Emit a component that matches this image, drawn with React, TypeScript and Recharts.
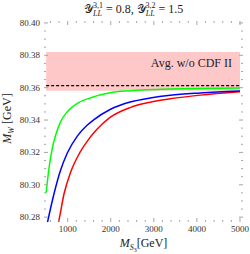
import { LineChart, Line, XAxis, YAxis, ReferenceArea, Label } from 'recharts'

// M_S3 [GeV] and M_W [GeV]
const greenMass = [500, 565, 642, 721, 837, 991, 1223, 1535, 1984, 2449, 3380, 5000]
const greenMW = [80.2951, 80.3101, 80.3225, 80.3307, 80.339, 80.3451, 80.3503, 80.3538, 80.3569, 80.3581, 80.3592, 80.3598]
const blueMass = [500, 542, 681, 821, 991, 1223, 1456, 1612, 1984, 2449, 2914, 3380, 4077, 5000]
const blueMW = [80.273, 80.2782, 80.2943, 80.3079, 80.3196, 80.3301, 80.3369, 80.3403, 80.3465, 80.3511, 80.3536, 80.3553, 80.3567, 80.3579]
const redMass = [705, 798, 914, 1070, 1263, 1456, 1674, 1984, 2449, 2914, 3380, 4077, 5000]
const redMW = [80.2683, 80.2782, 80.2943, 80.3079, 80.319, 80.327, 80.3341, 80.3416, 80.3477, 80.351, 80.3531, 80.3554, 80.3575]

// average without CDF II: band and central value
const avgRange = [500, 5000]
const avgLow = 80.3581
const avgHigh = 80.382
const avgCentral = 80.3613

const xMajor = [1000, 2000, 3000, 4000, 5000]
const yMajor = [80.28, 80.3, 80.32, 80.34, 80.36, 80.38, 80.4]

const xTicks: number[] = []
for (let v = 600; v <= 5000; v += 200) xTicks.push(v)
const yTicks: number[] = []
for (let k = 0; k <= 24; k++) yTicks.push(Math.round((yMajor[0] + k * 0.005) * 1000) / 1000)

const toRows = (xs: number[], ys: number[]) => xs.map((m, i) => ({ mass: m, mw: ys[i] }))
const green = toRows(greenMass, greenMW)
const blue = toRows(blueMass, blueMW)
const red = toRows(redMass, redMW)
const avg = avgRange.map(m => ({ mass: m, mw: avgCentral }))

const W = 250
const H = 254
const PLOT_W = 199
const PLOT_H = 201
const FRAME = '#a6a6a6'
const SERIF = '"Liberation Serif", "DejaVu Serif", serif'

function XTick({ x, y, payload }: any) {
  const v = payload.value
  const major = xMajor.includes(v)
  const len = major ? 4 : 2
  return (
    <g>
      <line x1={x} x2={x} y1={y} y2={y - len} stroke={FRAME} />
      <line x1={x} x2={x} y1={y - PLOT_H} y2={y - PLOT_H + len} stroke={FRAME} />
      {major && (
        <text x={x} y={y + 10} textAnchor="middle" fontSize={9} fontFamily={SERIF} fill="#333">{v}</text>
      )}
    </g>
  )
}

function YTick({ x, y, payload }: any) {
  const v = payload.value
  const major = Math.round(v * 1000) % 20 === 0
  const len = major ? 4 : 2
  return (
    <g>
      <line x1={x} x2={x + len} y1={y} y2={y} stroke={FRAME} />
      <line x1={x + PLOT_W} x2={x + PLOT_W - len} y1={y} y2={y} stroke={FRAME} />
      {major && (
        <text x={x - 4} y={y + 3} textAnchor="end" fontSize={9} fontFamily={SERIF} fill="#333">{v.toFixed(2)}</text>
      )}
    </g>
  )
}

export default function App() {
  return (
    <div style={{ position: 'absolute', left: 0, top: 0, width: W, height: H, background: '#fff' }}>
      <svg width={W} height={22} style={{ position: 'absolute', left: 0, top: 0 }}>
        <text x={84} y={13} fontFamily={SERIF} fontSize={12} fill="#222">
          <tspan>𝒴</tspan>
          <tspan fontSize={8} fontStyle="italic" dy={3}>LL</tspan>
          <tspan fontSize={8} dx={-9} dy={-8}>3,1</tspan>
          <tspan dy={5}> = 0.8, </tspan>
          <tspan>𝒴</tspan>
          <tspan fontSize={8} fontStyle="italic" dy={3}>LL</tspan>
          <tspan fontSize={8} dx={-9} dy={-8}>3,2</tspan>
          <tspan dy={5}> = 1.5</tspan>
        </text>
      </svg>
      <LineChart width={W} height={H} margin={{ top: 21, right: 7, left: 0, bottom: 0 }}>
        <XAxis
          type="number"
          dataKey="mass"
          domain={[450, 5070]}
          allowDataOverflow
          ticks={xTicks}
          interval={0}
          tick={<XTick />}
          tickLine={false}
          tickSize={0}
          tickMargin={0}
          axisLine={false}
          height={32}
        >
          <Label
            content={({ viewBox }: any) => (
              <text x={viewBox.x + viewBox.width / 2} y={viewBox.y + 25} textAnchor="middle" fontFamily={SERIF} fontSize={12} fill="#222">
                <tspan fontStyle="italic">M</tspan>
                <tspan fontSize={8} fontStyle="italic" dy={3}>S</tspan>
                <tspan fontSize={6} dy={1.5}>3</tspan>
                <tspan dy={-4.5}>[GeV]</tspan>
              </text>
            )}
          />
        </XAxis>
        <YAxis
          type="number"
          domain={[80.277, 80.4012]}
          allowDataOverflow
          ticks={yTicks}
          interval={0}
          tick={<YTick />}
          tickLine={false}
          tickSize={0}
          tickMargin={0}
          axisLine={false}
          width={44}
        >
          <Label
            content={({ viewBox }: any) => {
              const cx = viewBox.x + 11
              const cy = viewBox.y + viewBox.height / 2 - 3
              return (
                <text x={cx} y={cy} transform={`rotate(-90 ${cx} ${cy})`} textAnchor="middle" fontFamily={SERIF} fontSize={12} fill="#222">
                  <tspan fontStyle="italic">M</tspan>
                  <tspan fontSize={8} fontStyle="italic" dy={3}>W</tspan>
                  <tspan dy={-3}> [GeV]</tspan>
                </text>
              )
            }}
          />
        </YAxis>
        <ReferenceArea x1={avgRange[0]} x2={avgRange[1]} y1={avgLow} y2={avgHigh} fill="#ffc8c8" fillOpacity={1} stroke="none">
          <Label
            position="insideTopRight"
            offset={6}
            value="Avg. w/o CDF II"
            fontFamily={SERIF}
            fontSize={12}
            fill="#222"
            dx={-2}
          />
        </ReferenceArea>
        <ReferenceArea fill="none" stroke={FRAME} strokeWidth={1} />
        <Line data={avg} dataKey="mw" stroke="#000" strokeWidth={1.3} strokeDasharray="3 2" dot={false} isAnimationActive={false} />
        <Line data={red} dataKey="mw" type="monotone" stroke="#ff0000" strokeWidth={1.5} dot={false} isAnimationActive={false} />
        <Line data={blue} dataKey="mw" type="monotone" stroke="#0000ff" strokeWidth={1.5} dot={false} isAnimationActive={false} />
        <Line data={green} dataKey="mw" type="monotone" stroke="#00ff00" strokeWidth={1.5} dot={false} isAnimationActive={false} />
      </LineChart>
    </div>
  )
}
